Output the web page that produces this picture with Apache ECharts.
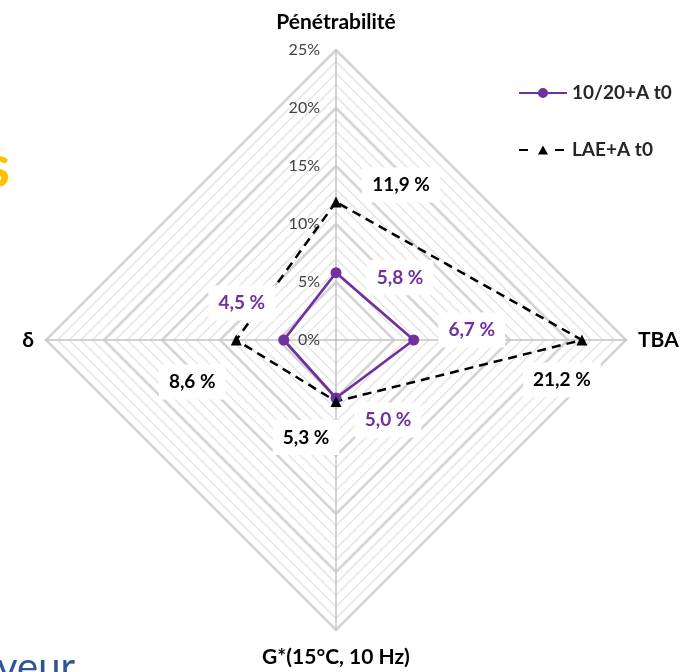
<!DOCTYPE html>
<html>
<head>
<meta charset="utf-8">
<script src="https://cdn.jsdelivr.net/npm/echarts@6/dist/echarts.min.js"></script>
<style>
  html, body { margin: 0; padding: 0; background: #ffffff; }
  #chart { width: 689px; height: 672px; }
</style>
</head>
<body>
<div id="chart"></div>
<script>
// Radar axes (counter-clockwise from the top: top, left, bottom, right)
const indicatorNames = ['Pénétrabilité', 'δ', 'G*(15°C, 10 Hz)', 'TBA'];
const axisMax = 25;
const tickValues = [0, 5, 10, 15, 20, 25];
const tickLabels = ['0%', '5%', '10%', '15%', '20%', '25%'];

// Series
const seriesNames = ['10/20+A t0', 'LAE+A t0'];
const values1020 = [5.8, 4.5, 5.0, 6.7];
const valuesLAE = [11.9, 8.6, 5.3, 21.2];

// Value-label offsets (px) from each vertex
const offsets1020 = [[64, 5], [-42, -37], [52, 22], [58, -10]];
const offsetsLAE = [[65, -17], [-44, 42], [-30, 36], [-20, 40]];

const CX = 336, CY = 340, R = 290;
const FONT = 'Lato, "Open Sans", sans-serif';
const PURPLE = '#7030a0';
const BLACK = '#000000';

function vertex(i, v) {
  const a = Math.PI / 2 + i * Math.PI / 2;
  const r = v / axisMax * R;
  return [CX + r * Math.cos(a), CY - r * Math.sin(a)];
}
function fmt(v) {
  return v.toFixed(1).replace('.', ',') + ' %';
}

const valueLabels = [];
[[values1020, offsets1020, PURPLE], [valuesLAE, offsetsLAE, BLACK]].forEach(function (s) {
  s[0].forEach(function (v, i) {
    const p = vertex(i, v);
    valueLabels.push({
      type: 'text',
      z: 100,
      x: p[0] + s[1][i][0],
      y: p[1] + s[1][i][1],
      style: {
        text: fmt(v),
        fill: s[2],
        font: 'bold 19px ' + FONT,
        align: 'center',
        verticalAlign: 'middle',
        backgroundColor: '#ffffff',
        padding: [8, 10]
      }
    });
  });
});

// Fragments of surrounding slide text
const slideText = [
  { type: 'text', z: 100, x: 10, y: 138, style: { text: 's', fill: '#ffc000', font: 'bold 60px ' + FONT, align: 'right', verticalAlign: 'top' } },
  { type: 'text', z: 100, x: -3, y: 648, style: { text: 'veur', fill: '#2f5597', font: '40px ' + FONT, align: 'left', verticalAlign: 'top' } }
];

const indicatorsMinor = indicatorNames.map(function (n) { return { name: n, min: 0, max: axisMax }; });
const indicatorsMajor = indicatorNames.map(function (n, i) {
  const o = { name: n, min: 0, max: axisMax };
  if (i === 0) {
    o.axisLabel = {
      show: true,
      margin: 16,
      color: '#404040',
      fontSize: 16,
      fontFamily: FONT,
      formatter: function (val) {
        const k = tickValues.indexOf(Math.round(val));
        return k >= 0 ? tickLabels[k] : '';
      }
    };
  }
  return o;
});

const chart = echarts.init(document.getElementById('chart'), null, { renderer: 'canvas' });
chart.setOption({
  backgroundColor: '#ffffff',
  animation: false,
  legend: {
    orient: 'vertical',
    left: 514,
    top: 77,
    itemWidth: 48,
    itemHeight: 10,
    itemGap: 35,
    textStyle: { fontFamily: FONT, fontWeight: 'bold', fontSize: 19, color: '#262626', lineHeight: 22 },
    data: [
      { name: seriesNames[0], icon: 'path://M0,4H48V6H0Z M19,5A5,5,0,1,1,29,5A5,5,0,1,1,19,5Z' },
      { name: seriesNames[1], icon: 'path://M0,4H9V6H0Z M24,0.5L29,9.5H19Z M36,4H45V6H36Z M0,0H0.01V0.01H0Z M47.99,9.99H48V10H47.99Z' }
    ]
  },
  radar: [
    {
      center: [CX, CY],
      radius: R,
      shape: 'polygon',
      splitNumber: 25,
      indicator: indicatorsMinor,
      axisName: { show: false },
      axisLine: { show: false },
      axisTick: { show: false },
      axisLabel: { show: false },
      splitArea: { show: false },
      splitLine: { lineStyle: { color: '#e6e6e6', width: 1.5 } }
    },
    {
      center: [CX, CY],
      radius: R,
      shape: 'polygon',
      splitNumber: 5,
      indicator: indicatorsMajor,
      nameGap: 12,
      axisName: {
        color: '#000000',
        fontFamily: FONT,
        fontWeight: 'bold',
        fontSize: 21,
        padding: [5, 0, 5, 0]
      },
      axisLine: { show: true, lineStyle: { color: '#c4c4c4', width: 1.5 } },
      axisTick: { show: false },
      axisLabel: { show: false },
      splitArea: { show: false },
      splitLine: { lineStyle: { color: '#d4d4d4', width: 2.5 } }
    }
  ],
  series: [
    {
      type: 'radar',
      radarIndex: 1,
      z: 3,
      data: [
        {
          name: seriesNames[0],
          value: values1020,
          symbol: 'circle',
          symbolSize: 11,
          itemStyle: { color: PURPLE },
          lineStyle: { color: PURPLE, width: 2.75 }
        },
        {
          name: seriesNames[1],
          value: valuesLAE,
          symbol: 'triangle',
          symbolSize: 11,
          itemStyle: { color: BLACK },
          lineStyle: { color: BLACK, width: 2.5, type: [9, 6] }
        }
      ]
    }
  ],
  graphic: valueLabels.concat(slideText)
});
</script>
</body>
</html>
